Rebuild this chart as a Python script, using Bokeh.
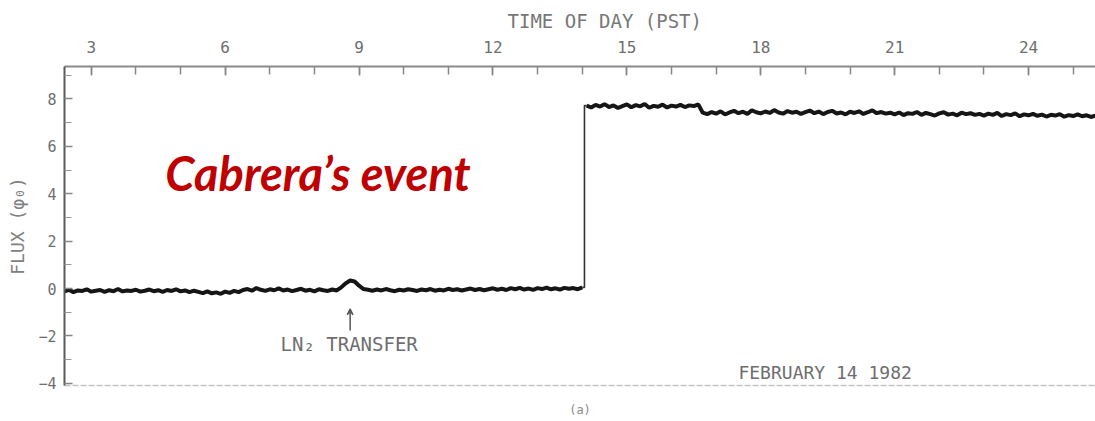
import numpy as np
from bokeh.plotting import figure
from bokeh.models import (LinearAxis, FixedTicker, Range1d, Label, Arrow,
                          VeeHead, ColumnDataSource, Title)
from bokeh.embed import file_html
from bokeh.resources import INLINE

# ---------------- data ----------------
# SQUID flux (units of flux quantum) sampled every 0.1 h, before the event
flux_before = [
    -0.12, -0.05, -0.15, -0.08, -0.10, -0.03, -0.13, -0.09, -0.06, -0.14,
    -0.07, -0.11, -0.02, -0.12, -0.08, -0.10, -0.05, -0.13, -0.09, -0.04,
    -0.11, -0.07, -0.14, -0.06, -0.10, -0.03, -0.12, -0.08, -0.15, -0.09,
    -0.14, -0.19, -0.12, -0.20, -0.16, -0.22, -0.13, -0.18, -0.10, -0.15,
    -0.06, -0.02, -0.09, 0.02, -0.05, -0.10, -0.03, -0.07, 0.01, -0.08,
    -0.04, -0.11, -0.06, -0.01, -0.09, -0.05, -0.12, -0.03, -0.07, -0.10,
    -0.04, -0.08,
    0.05, 0.22, 0.34, 0.30, 0.12, -0.02,
    -0.05, -0.09, -0.04, -0.08, -0.02, -0.07, -0.11, -0.05, -0.08, -0.03,
    -0.06, -0.10, -0.04, -0.07, -0.02, -0.09, -0.05, -0.08, -0.01, -0.06,
    -0.03, -0.08, -0.04, 0.00, -0.06, -0.02, -0.07, -0.03, 0.01, -0.05,
    -0.01, -0.06, 0.02, -0.03, 0.03, -0.04, 0.00, -0.05, 0.02, -0.02,
    0.04, -0.03, 0.01, -0.04, 0.03, -0.01, 0.02, -0.03, 0.05,
]
# after the event (step at ~14.05 h)
flux_after = [
    7.72, 7.64, 7.75, 7.68, 7.78, 7.66, 7.73, 7.62, 7.70, 7.77,
    7.65, 7.74, 7.69, 7.79, 7.63, 7.71, 7.67, 7.76, 7.64, 7.72,
    7.68, 7.75, 7.66, 7.73, 7.70, 7.77,
    7.42, 7.36, 7.45, 7.38, 7.48, 7.35, 7.43, 7.50, 7.40, 7.46,
    7.37, 7.52, 7.44, 7.39, 7.47, 7.41, 7.53, 7.43, 7.38, 7.49,
    7.42, 7.46, 7.37,
    7.44, 7.51, 7.40, 7.47, 7.36, 7.45, 7.50, 7.39, 7.43, 7.35,
    7.46, 7.41, 7.48, 7.37, 7.44, 7.52, 7.40, 7.45, 7.38, 7.42,
    7.35, 7.43, 7.32, 7.40, 7.37, 7.45, 7.33, 7.41, 7.36, 7.30,
    7.39, 7.44, 7.34, 7.38, 7.31, 7.42, 7.36, 7.40, 7.33, 7.37,
    7.30, 7.38, 7.33, 7.41, 7.28, 7.36, 7.32, 7.39, 7.27, 7.35,
    7.31, 7.37, 7.29, 7.34, 7.26, 7.33, 7.30, 7.36, 7.25, 7.32,
    7.28, 7.35, 7.27, 7.31, 7.24, 7.30,
]
start_before = 2.4
start_after = 14.1
step_hour = 14.05
sample_dt = 0.1
hours_before = start_before + sample_dt * np.arange(len(flux_before))
hours_after = start_after + sample_dt * np.arange(len(flux_after))

top_ticks = [3, 6, 9, 12, 15, 18, 21, 24]
hour_ticks = list(range(3, 26))
y_ticks = [-4, -2, 0, 2, 4, 6, 8]
y_minor = [-3, -1, 1, 3, 5, 7, 9]

x_title = "TIME OF DAY (PST)"
y_title = "FLUX (φ₀)"
event_text = "Cabrera’s event"
transfer_text = "LN₂ TRANSFER"
transfer_hour = 8.8
date_text = "FEBRUARY 14 1982"
panel_text = "(a)"

# ---------------- figure ----------------
GRAY = "#6e6e6e"
MONO = "DejaVu Sans Mono"

p = figure(width=1095, height=421,
           x_range=Range1d(2.40, 25.50), y_range=Range1d(-4.09, 9.37),
           x_axis_location="above",
           output_backend="svg", toolbar_location=None,
           min_border_left=64, min_border_right=0,
           min_border_top=66, min_border_bottom=36)
p.outline_line_color = None
p.grid.visible = False
p.background_fill_color = "white"
p.border_fill_color = "white"

# top axis
xa = p.xaxis[0]
xa.ticker = FixedTicker(ticks=top_ticks, minor_ticks=hour_ticks)
xa.axis_line_color = "#8a8a8a"
xa.axis_line_width = 2
xa.major_tick_in = 9
xa.major_tick_out = 0
xa.minor_tick_in = 8
xa.minor_tick_out = 0
xa.major_tick_line_color = "#888888"
xa.minor_tick_line_color = "#888888"
xa.major_tick_line_width = 1.5
xa.minor_tick_line_width = 1.5
xa.major_label_text_font = MONO
xa.major_label_text_font_size = "16px"
xa.major_label_text_color = GRAY
xa.major_label_standoff = 14

# title above the top axis
p.add_layout(Title(text=x_title, text_font=MONO, text_font_size="19px",
                   text_font_style="normal", text_color="#777777",
                   align="left", offset=443, standoff=11), "above")

# left axis
ya = p.yaxis[0]
ya.ticker = FixedTicker(ticks=y_ticks, minor_ticks=y_minor)
ya.axis_line_color = "#5a5a5a"
ya.axis_line_width = 2
ya.major_tick_in = 8
ya.major_tick_out = 0
ya.minor_tick_in = 7
ya.minor_tick_out = 0
ya.major_tick_line_color = "#888888"
ya.minor_tick_line_color = "#999999"
ya.major_tick_line_width = 1.5
ya.minor_tick_line_width = 1.2
ya.major_label_text_font = MONO
ya.major_label_text_font_size = "15px"
ya.major_label_text_color = GRAY
ya.major_label_standoff = 8
ya.axis_label = y_title
ya.axis_label_text_font = MONO
ya.axis_label_text_font_size = "18px"
ya.axis_label_text_font_style = "normal"
ya.axis_label_text_color = "#808080"
ya.axis_label_standoff = 7

# bottom frame line, with the panel tag as its label
bottom = LinearAxis(ticker=FixedTicker(ticks=[]),
                    axis_line_color="#c4c4c4", axis_line_width=1.5,
                    axis_line_dash="6 2",
                    major_tick_line_color=None, minor_tick_line_color=None,
                    major_tick_out=0, minor_tick_out=0,
                    major_label_text_font_size="0px",
                    major_label_standoff=0,
                    axis_label=panel_text,
                    axis_label_text_font=MONO,
                    axis_label_text_font_size="12px",
                    axis_label_text_font_style="normal",
                    axis_label_text_color="#8a8a8a",
                    axis_label_standoff=17)
p.add_layout(bottom, "below")

# trace
src_b = ColumnDataSource(dict(x=hours_before, y=flux_before))
src_a = ColumnDataSource(dict(x=hours_after, y=flux_after))
p.line("x", "y", source=src_b, line_color="#151515", line_width=4)
p.line("x", "y", source=src_a, line_color="#151515", line_width=4)
# connect to the step
p.line([hours_before[-1], step_hour, step_hour, hours_after[0]],
       [flux_before[-1], flux_before[-1], flux_after[0], flux_after[0]],
       line_color="#333333", line_width=1.6)

# annotations
p.add_layout(Label(x=4.66, y=4.87, text=event_text, text_font="Lato",
                   text_font_style="bold italic", text_font_size="47px",
                   text_color="#C00000", text_align="left",
                   text_baseline="middle"))
p.add_layout(Label(x=7.24, y=-2.32, text=transfer_text, text_font=MONO,
                   text_font_size="19px", text_color=GRAY,
                   text_align="left", text_baseline="middle"))
p.add_layout(Arrow(x_start=transfer_hour, y_start=-1.77,
                   x_end=transfer_hour, y_end=-0.85,
                   line_color="#555555", line_width=1.5,
                   end=VeeHead(size=6, line_color="#555555",
                               fill_color="#555555", line_width=1.2)))
p.add_layout(Label(x=17.5, y=-3.54, text=date_text, text_font=MONO,
                   text_font_size="18px", text_color=GRAY,
                   text_align="left", text_baseline="middle"))

open("out.html", "w").write(file_html(p, INLINE))
